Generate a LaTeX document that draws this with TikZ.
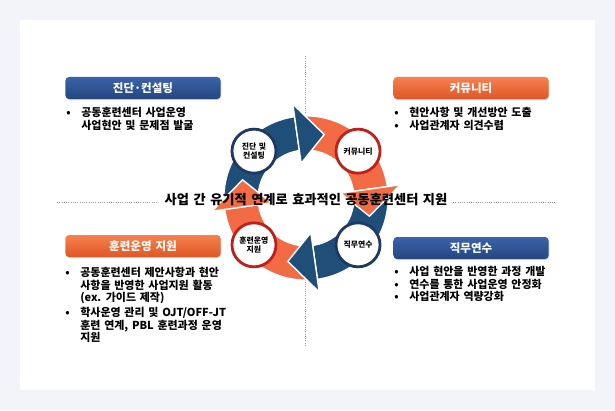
\documentclass[tikz,border=0pt]{standalone}
\usepackage{fontspec}
\setmainfont{Noto Sans CJK KR}[WordSpace=1.5]
\usetikzlibrary{shadows}
\definecolor{pagebg}{HTML}{F3F3FA}
\definecolor{navyarrow}{HTML}{1F4E79}
\definecolor{orangearrow}{HTML}{F26B45}
\definecolor{bluetop}{HTML}{3B63A9}
\definecolor{bluebot}{HTML}{23467E}
\definecolor{orangetop}{HTML}{F8814F}
\definecolor{orangebot}{HTML}{DE5626}
\definecolor{navyring}{HTML}{1F3864}
\definecolor{redring}{HTML}{C0201A}
\newcommand{\itm}{\makebox[10.7pt][l]{\textbullet}}
\newcommand{\cont}{\hspace*{10.7pt}}

\begin{document}
\begin{tikzpicture}[x=0.025cm,y=0.025cm,
  headbox/.style={rounded corners=2.5pt,minimum width=3.875cm,minimum height=0.55cm,text=white,
    font=\fontsize{8.2}{9.8}\selectfont\bfseries,
    drop shadow={shadow xshift=0.6pt,shadow yshift=-0.8pt,opacity=0.3}},
  bluehead/.style={headbox,top color=bluetop,bottom color=bluebot},
  orangehead/.style={headbox,top color=orangetop,bottom color=orangebot},
  blist/.style={anchor=north west,align=left,inner sep=0pt,font=\fontsize{7.8}{9}\selectfont\bfseries},
  stage/.style={circle,fill=white,line width=2pt,minimum size=1.1cm,inner sep=0pt,align=center,
    font=\fontsize{5.6}{6.8}\selectfont\bfseries,
    drop shadow={shadow xshift=0.4pt,shadow yshift=-0.6pt,opacity=0.25}},
  sep/.style={densely dotted,gray!80,line width=0.6pt}]

\useasboundingbox (0,0) rectangle (615,410);
\fill[pagebg] (0,0) rectangle (615,410);
\fill[white] (20,20) rectangle (595,390);

% dotted guide lines
\coordinate (vtop) at (305,354);
\coordinate (vtopend) at (305,285);
\coordinate (vbot) at (305,135);
\coordinate (vbotend) at (305,65);
\coordinate (hleft) at (57,208);
\coordinate (hleftend) at (157,208);
\coordinate (hright) at (453,208);
\coordinate (hrightend) at (555,208);
\draw[sep] (vtop) -- (vtopend);
\draw[sep] (vbot) -- (vbotend);
\draw[sep] (hleft) -- (hleftend);
\draw[sep] (hright) -- (hrightend);

% cycle
\begin{scope}[shift={(306,212)}]
\foreach \b/\col in {98/navyarrow,8/orangearrow,-82/navyarrow,-172/orangearrow}
  \fill[\col,draw=white,line width=0.8pt] ({\b+90}:82) arc[start angle=\b+90,end angle=\b,radius=82]
    -- (\b:48) arc[start angle=\b,end angle=\b+90,radius=48] -- cycle;
\foreach \b/\col in {98/navyarrow,8/orangearrow,-82/navyarrow,-172/orangearrow}
  \fill[\col,draw=white,line width=1pt] (\b:35) -- (\b:95) -- ({\b-24}:66) -- cycle;
\draw (138:70) node[stage,draw=navyring] (diag) {진단 및\\컨설팅};
\draw (42:70) node[stage,draw=redring] (comm) {커뮤니티};
\draw (-42:70) node[stage,draw=navyring] (job) {직무연수};
\draw (-138:70) node[stage,draw=redring] (oper) {훈련운영\\지원};
\end{scope}

\draw (306,210) node[font=\fontsize{9.4}{11}\selectfont\bfseries] (title) {사업 간 유기적 연계로 효과적인 공동훈련센터 지원};

% headers
\draw (143,322) node[bluehead] (diaghead) {진단·컨설팅};
\draw (471,322) node[orangehead] (commhead) {커뮤니티};
\draw (143,164) node[orangehead] (operhead) {훈련운영 지원};
\draw (471,162) node[bluehead] (jobhead) {직무연수};

% lists
\draw (66,303) node[blist] (diaglist) {\itm 공동훈련센터 사업운영\\\cont 사업현안 및 문제점 발굴};
\draw (394,303) node[blist] (commlist) {\itm 현안사항 및 개선방안 도출\\\itm 사업관계자 의견수렴};
\draw (65,143) node[blist] (operlist) {\itm 공동훈련센터 제안사항과 현안\\\cont 사항을 반영한 사업지원 활동\\\cont (ex. 가이드 제작)\\[1.5pt]
  \itm 학사운영 관리 및 OJT/OFF-JT\\\cont 훈련 연계, PBL 훈련과정 운영\\\cont 지원};
\draw (394,144) node[blist] (joblist) {\itm 사업 현안을 반영한 과정 개발\\\itm 연수를 통한 사업운영 안정화\\\itm 사업관계자 역량강화};

\end{tikzpicture}
\end{document}
